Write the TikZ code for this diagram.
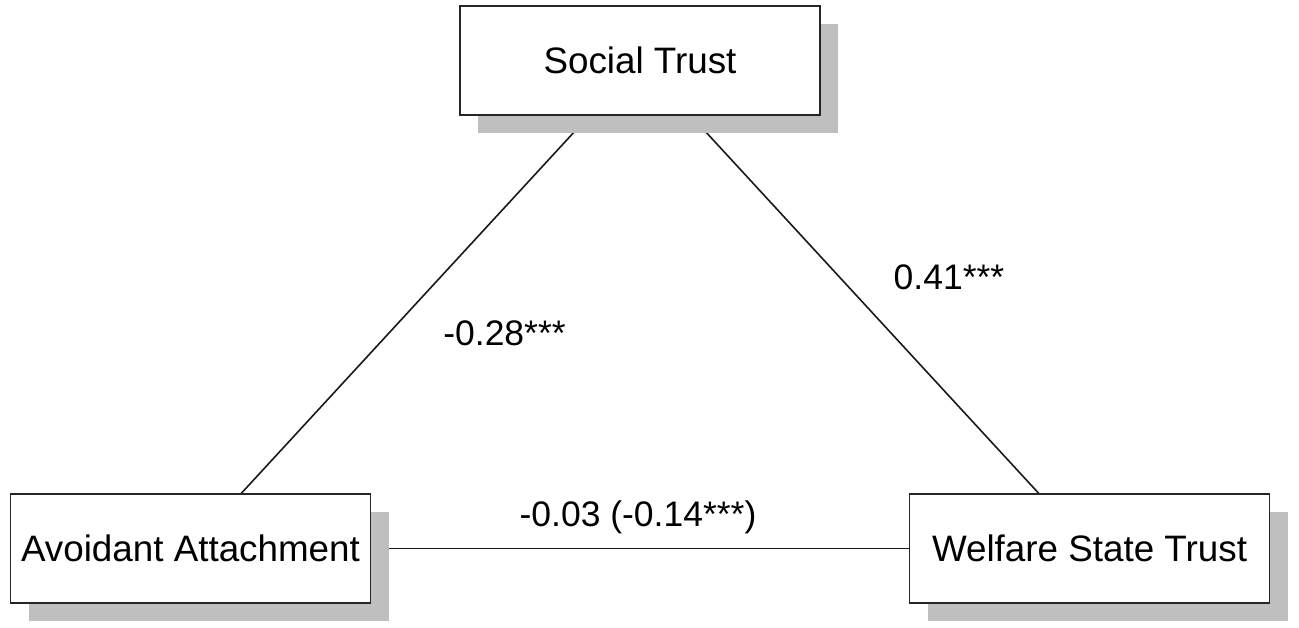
\documentclass[tikz,border=0pt]{standalone}
\usepackage{fontspec}
\setmainfont{Liberation Sans}
\usetikzlibrary{shadows,backgrounds}
\begin{document}
\begin{tikzpicture}[x=1pt,y=-1pt,
  varbox/.style={draw=black!85, line width=1.8pt, fill=white,
    minimum width=360pt, minimum height=109pt, inner sep=0pt,
    font=\fontsize{36.8}{44}\selectfont,
    drop shadow={shadow xshift=18pt, shadow yshift=-18pt, fill=black!25, opacity=1}},
  link/.style={line width=1.6pt, draw=black!90},
  coef/.style={anchor=base, inner sep=0pt, font=\fontsize{35.5}{42}\selectfont}]
\path[use as bounding box] (0,0) rectangle (1299,628);
\node[varbox] (st) at (640,60.5) {Social Trust};
\node[varbox] (aa) at (190.5,548.5) {Avoidant Attachment};
\node[varbox] (wst) at (1089.5,548.5) {Welfare State Trust};
\begin{pgfonlayer}{background}
\draw[link] (st.center) -- (aa.center);
\draw[link] (st.center) -- (wst.center);
\draw[link] (aa.center) -- (wst.center);
\end{pgfonlayer}
\node[coef] (c1) at (504.5,346) {-0.28***};
\node[coef] (c2) at (949,290) {0.41***};
\node[coef] (c3) at (638,526) {-0.03 (-0.14***)};
\end{tikzpicture}
\end{document}
